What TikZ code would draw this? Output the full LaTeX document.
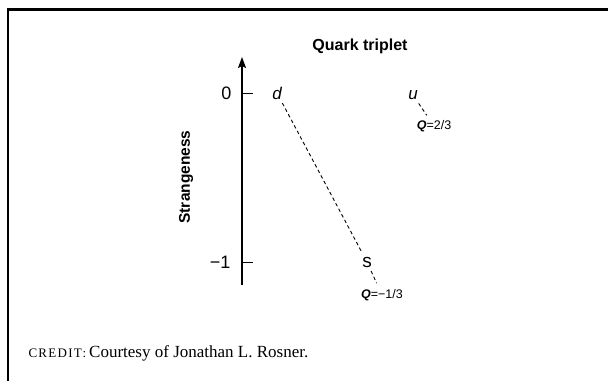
\documentclass[tikz,border=0pt]{standalone}
\usepackage{fontspec}
\setmainfont{Liberation Sans}
\newfontfamily\creditfont{Liberation Serif}
\usetikzlibrary{arrows.meta}
\begin{document}
\begin{tikzpicture}[x=1pt, y=-1pt, line width=1pt,
  quark/.style={font=\fontsize{17}{17}\selectfont\itshape},
  charge/.style={font=\fontsize{12.5}{12.5}\selectfont, inner sep=2pt},
  ticklabel/.style={font=\fontsize{18}{18}\selectfont, anchor=east, inner sep=0pt},
  heading/.style={font=\fontsize{16}{16}\selectfont\bfseries},
  link/.style={line width=0.9pt, dash pattern=on 3.5pt off 2.8pt}]
  \useasboundingbox (0,0) rectangle (608,381);
  \draw[line width=2.4pt] (8.2,381) -- (8.2,9.3) -- (608,9.3);
  \node[heading, anchor=base] (title) at (360,50) {Quark triplet};
  \coordinate (axbot) at (242,285);
  \coordinate (axtop) at (242,57);
  \draw[line width=1.4pt, -{Stealth[length=11pt, width=8pt, inset=2pt]}] (axbot) -- (axtop);
  \coordinate (t0) at (242,93);
  \coordinate (t1) at (242,262);
  \draw (t0) -- ++(11,0);
  \draw (t1) -- ++(11,0);
  \node[ticklabel] (l0) at (232,93) {0};
  \node[ticklabel] (l1) at (231,262) {−1};
  \node[heading, font=\fontsize{15.5}{15.5}\selectfont\bfseries, rotate=90] (ylab) at (186,177) {Strangeness};
  \node[quark] (d) at (277,93) {d};
  \node[quark] (u) at (413,95) {u};
  \node[quark, font=\fontsize{19}{19}\selectfont] (s) at (367,262) {s};
  \node[charge] (qu) at (434,126) {\textbf{\textit{Q}}=2/3};
  \node[charge] (qs) at (382,295) {\textbf{\textit{Q}}=−1/3};
  \draw[link] (d) -- (s);
  \draw[link, shorten >=4pt] (s) -- (qs);
  \draw[link, shorten >=3pt] (u) -- (qu);
  \node[anchor=base west, inner sep=0pt] (credit) at (28,357)
    {\creditfont{\fontsize{13}{13}\selectfont\addfontfeature{LetterSpace=10}CREDIT:}\hspace{3pt}\fontsize{17}{17}\selectfont Courtesy of Jonathan L. Rosner.};
\end{tikzpicture}
\end{document}
